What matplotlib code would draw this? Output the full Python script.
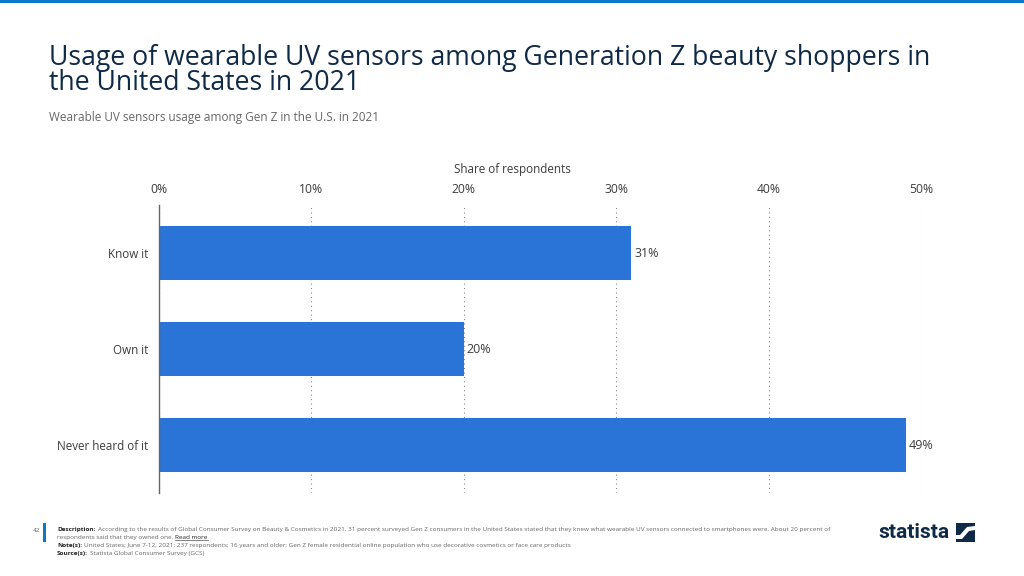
"""Wearable UV sensor usage among Gen Z, horizontal bar chart."""

import matplotlib

matplotlib.use("Agg")
import matplotlib.pyplot as plt
from matplotlib.patches import Polygon, Rectangle

plt.rcParams["font.family"] = ["Open Sans", "DejaVu Sans"]

categories = ["Know it", "Own it", "Never heard of it"]
shares = [31, 20, 49]
x_ticks = [0, 10, 20, 30, 40, 50]

title_lines = [
    "Usage of wearable UV sensors among Generation Z beauty shoppers in",
    "the United States in 2021",
]
subtitle = "Wearable UV sensors usage among Gen Z in the U.S. in 2021"
x_label = "Share of respondents"
page_number = "42"

footer_lines = [
    ("Description:", "According to the results of Global Consumer Survey on Beauty & Cosmetics in 2021, 31 percent surveyed Gen Z consumers in the United States stated that they knew what wearable UV sensors connected to smartphones were. About 20 percent of"),
    ("", "respondents said that they owned one."),
    ("Note(s):", "United States; June 7-12, 2021; 237 respondents; 16 years and older; Gen Z female residential online population who use decorative cosmetics or face care products"),
    ("Source(s):", "Statista Global Consumer Survey (GCS)"),
]

BLUE = "#2a74d8"
NAVY = "#0f2a47"
GREY = "#666666"
LABEL = "#3c3c3c"
W, H = 1024, 576

fig = plt.figure(figsize=(W / 100, H / 100), dpi=100, facecolor="white")

# thin accent strip along the top edge
fig.add_artist(Rectangle((0, 1 - 3 / H), 1, 3 / H, transform=fig.transFigure, color="#0b78c9", lw=0))

fig.text(49 / W, 1 - 58 / H, title_lines[0], fontsize=19.2, color=NAVY, va="center")
fig.text(49 / W, 1 - 83 / H, title_lines[1], fontsize=19.2, color=NAVY, va="center")
fig.text(49 / W, 1 - 117 / H, subtitle, fontsize=8.5, color=GREY, va="center")

# axes box: x from 0% to 50%, y spans the vertical axis line
ax = fig.add_axes([159 / W, 1 - 493 / H, (921 - 159) / W, (493 - 205) / H])
positions = range(len(categories))
ax.barh(positions, shares, height=0.5625, color=BLUE, zorder=2)
ax.set_xlim(0, 50)
ax.set_ylim(2.5, -0.5)

ax.set_yticks(list(positions), categories)
ax.set_xticks(x_ticks, [f"{t}%" for t in x_ticks])
ax.xaxis.tick_top()
ax.tick_params(axis="x", length=0, labelsize=8.7, labelcolor=LABEL, pad=6.5)
ax.tick_params(axis="y", length=0, labelsize=8.4, labelcolor=LABEL, pad=8)
ax.grid(axis="x", color="#888888", linestyle=(0, (1, 3)), linewidth=0.8, zorder=1)
fig.text(512 / W, 1 - 169 / H, x_label, fontsize=8.4, color=LABEL, ha="center", va="center")

for side in ["top", "right", "bottom"]:
    ax.spines[side].set_visible(False)
ax.spines["left"].set_color("#666666")
ax.spines["left"].set_linewidth(1)
ax.spines["left"].set_zorder(3)

for pos, value in zip(positions, shares):
    ax.annotate(f"{value}%", (value, pos), xytext=(2, -0.7), textcoords="offset points",
                va="center", fontsize=9, color=LABEL)

# footer
fig.add_artist(Rectangle((43 / W, 1 - 542 / H), 2.5 / W, 19 / H, transform=fig.transFigure, color="#0b78c9", lw=0))
fig.text(40 / W, 1 - 530 / H, page_number, fontsize=4.6, color=GREY, ha="right", va="center")

renderer = fig.canvas.get_renderer()
for i, (head, body) in enumerate(footer_lines):
    y = 1 - (530 + i * 7.7) / H
    x = 57 / W
    if head:
        t = fig.text(x, y, head, fontsize=4.55, color="#222222", fontweight="bold", va="center")
        x = t.get_window_extent(renderer).x1 / W + 2 / W
    t = fig.text(x, y, body, fontsize=4.55, color=GREY, va="center")
    if i == 1:
        x = t.get_window_extent(renderer).x1 / W + 2 / W
        link = fig.text(x, y, "Read more", fontsize=4.55, color="#222222", va="center")
        box = link.get_window_extent(renderer)
        fig.add_artist(plt.Line2D([box.x0 / W, box.x1 / W], [box.y0 / H, box.y0 / H], color="#222222", lw=0.4))

# logo wordmark and mark
fig.text(878 / W, 1 - 533 / H, "statista", fontsize=15, color=NAVY, va="center", fontweight="bold", family="Roboto")
fig.add_artist(Rectangle((956 / W, 1 - 542 / H), 19 / W, 19 / H, transform=fig.transFigure, color=NAVY, lw=0))
band = [(956, 535), (960, 535), (967, 527), (975, 526), (975, 530), (969, 531), (962, 539), (956, 539)]
fig.add_artist(Polygon([(px / W, 1 - py / H) for px, py in band], transform=fig.transFigure, color="white", lw=0))

fig.savefig("out.png", dpi=100)
